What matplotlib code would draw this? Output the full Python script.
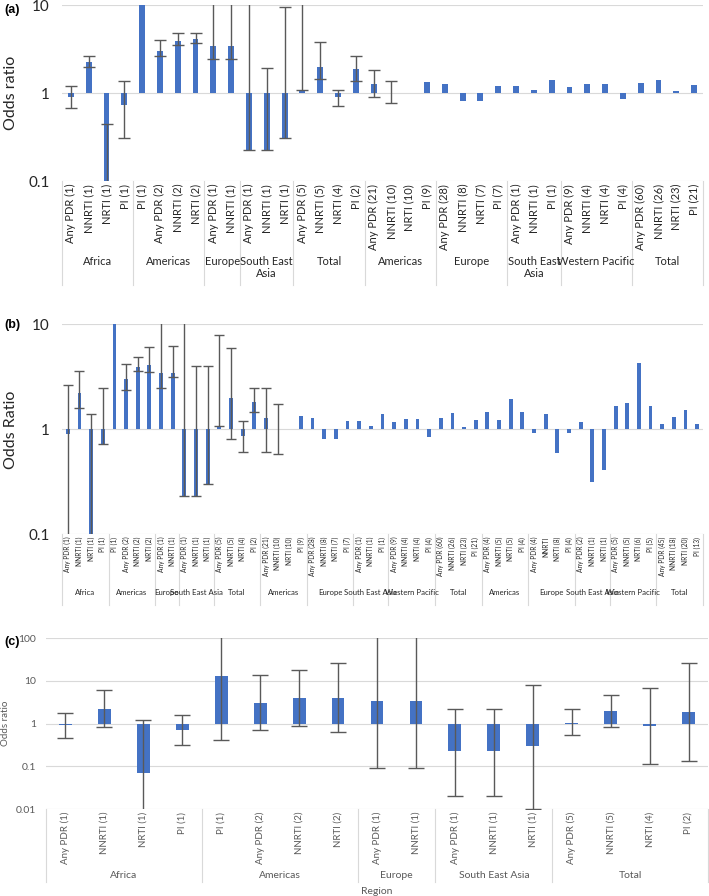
import numpy as np
import matplotlib
matplotlib.use("Agg")
import matplotlib.pyplot as plt
from matplotlib.ticker import NullLocator

plt.rcParams['font.family'] = ['Lato', 'DejaVu Sans']

W, H = 709, 896
BLUE = "#4472C4"
ERR = "#595959"
GRID = "#D9D9D9"
nan = np.nan

# ---------------- panel (a) ----------------
groups_a = ["Africa", "Americas", "Europe", "South East\nAsia", "Total",
            "Americas", "Europe", "South East\nAsia", "Western Pacific", "Total"]
sizes_a = [4, 4, 2, 3, 4, 4, 4, 3, 4, 4]
cats_a = ["Any PDR (1)", "NNRTI (1)", "NRTI (1)", "PI (1)",
          "PI (1)", "Any PDR (2)", "NNRTI (2)", "NRTI (2)",
          "Any PDR (1)", "NNRTI (1)",
          "Any PDR (1)", "NNRTI (1)", "NRTI (1)",
          "Any PDR (5)", "NNRTI (5)", "NRTI (4)", "PI (2)",
          "Any PDR (21)", "NNRTI (10)", "NRTI (10)", "PI (9)",
          "Any PDR (28)", "NNRTI (8)", "NRTI (7)", "PI (7)",
          "Any PDR (1)", "NNRTI (1)", "PI (1)",
          "Any PDR (9)", "NNRTI (4)", "NRTI (4)", "PI (4)",
          "Any PDR (60)", "NNRTI (26)", "NRTI (23)", "PI (21)"]
vals_a = [0.91, 2.25, 0.07, 0.74, 12.9, 3.0, 3.86, 4.1, 3.45, 3.45, 0.227, 0.227, 0.31,
          1.07, 2.0, 0.90, 1.87, 1.28, 1.0, 1.0, 1.34, 1.26, 0.82, 0.82, 1.2,
          1.21, 1.08, 1.42, 1.18, 1.26, 1.26, 0.855, 1.29, 1.42, 1.06, 1.22]
lo_a = [0.68, 2.0, 0.01, 0.31, nan, 2.6, 3.47, 3.7, 2.43, 2.43, 0.227, 0.227, 0.31,
        1.07, 1.45, 0.72, 1.38, 0.91, 0.77] + [nan] * 17
hi_a = [1.19, 2.6, 0.44, 1.36, nan, 3.96, 4.8, 4.8, 20, 20, 20, 1.92, 9.6,
        20, 3.77, 1.07, 2.65, 1.81, 1.38] + [nan] * 17

# ---------------- panel (b) ----------------
groups_b = ["Africa", "Americas", "Europe", "South East Asia", "Total",
            "Americas", "Europe", "South East Asia", "Western Pacific", "Total",
            "Americas", "Europe", "South East Asia", "Western Pacific", "Total"]
sizes_b = [4, 4, 2, 3, 4, 4, 4, 3, 4, 4, 4, 4, 3, 4, 4]
cats_b = cats_a + ["Any PDR (4)", "NNRTI (5)", "NRTI (5)", "PI (4)",
                   "Any PDR (4)", "NNRTI", "NRTI (8)", "PI (4)",
                   "Any PDR (2)", "NNRTI (1)", "NRTI (1)",
                   "Any PDR (5)", "NNRTI (5)", "NRTI (6)", "PI (5)",
                   "Any PDR (45)", "NNRTI (18)", "NRTI (20)", "PI (13)"]
vals_b = [0.89, 2.2, 0.07, 0.72, 12.9, 3.0, 3.87, 4.07, 3.39, 3.39, 0.23, 0.23, 0.30,
          1.07, 1.99, 0.86, 1.82, 1.26, 1.0, 1.0, 1.33, 1.26, 0.81, 0.81, 1.19,
          1.2, 1.07, 1.39, 1.17, 1.25, 1.25, 0.83, 1.27, 1.41, 1.05, 1.21,
          1.45, 1.23, 1.93, 1.45, 0.91, 1.38, 0.59, 0.91, 1.16, 0.31, 0.41,
          1.66, 1.78, 4.28, 1.66, 1.11, 1.29, 1.51, 1.11]
lo_b = [0.01, 1.6, 0.01, 0.72, nan, 2.35, 3.57, 3.47, 2.44, 3.16, 0.23, 0.23, 0.30,
        1.07, 0.81, 0.61, 1.44, 0.61, 0.58] + [nan] * 36
hi_b = [2.6, 3.57, 1.39, 2.44, nan, 4.13, 4.88, 6.0, 20, 6.2, 20, 4.0, 4.0,
        7.85, 5.9, 1.19, 2.44, 2.44, 1.73] + [nan] * 36

# ---------------- panel (c) ----------------
groups_c = ["Africa", "Americas", "Europe", "South East Asia", "Total"]
sizes_c = [4, 4, 2, 3, 4]
cats_c = cats_a[:17]
vals_c = [0.91, 2.2, 0.07, 0.72, 12.9, 3.0, 3.86, 4.0, 3.39, 3.39, 0.233, 0.233, 0.305,
          1.05, 1.94, 0.88, 1.81]
lo_c = [0.46, 0.84, 0.001, 0.32, 0.42, 0.70, 0.87, 0.63, 0.092, 0.092, 0.0205, 0.0205,
        0.01, 0.54, 0.85, 0.11, 0.13]
hi_c = [1.78, 6.0, 1.2, 1.62, 200, 13.3, 17.8, 26.4, 200, 200, 2.2, 2.2, 7.9,
        2.13, 4.7, 6.85, 26.4]


def px_axes(fig, left, top, right, bottom):
    return fig.add_axes([left / W, 1 - bottom / H, (right - left) / W, (bottom - top) / H])


def draw_panel(ax, cats, vals, lo, hi, groups, sizes, ylim, yticks, ytlabels,
               cat_size, cat_color, grp_size, grp_y, sep_depth, cap, tick_size, tick_color, pad):
    n = len(cats)
    x = np.arange(n)
    vals = np.array(vals, dtype=float)
    lo = np.array(lo, dtype=float)
    hi = np.array(hi, dtype=float)

    ax.set_yscale("log")
    ax.set_ylim(*ylim)
    ax.set_xlim(-0.5, n - 0.5)
    for t in yticks:
        ax.axhline(t, color=GRID, lw=0.8, zorder=0)

    # Excel-style bars growing from 1 on a log axis
    ax.bar(x, vals - 1, bottom=1, width=0.33, color=BLUE, zorder=2)

    m = ~np.isnan(lo)
    yerr = [np.clip(vals[m] - lo[m], 0, None), np.clip(hi[m] - vals[m], 0, None)]
    ax.errorbar(x[m], vals[m], yerr=yerr, fmt="none", ecolor=ERR, elinewidth=1.0,
                capsize=cap, capthick=1.0, zorder=3)

    ax.set_yticks(yticks)
    ax.set_yticklabels(ytlabels, fontsize=tick_size, color=tick_color)
    ax.yaxis.set_minor_locator(NullLocator())
    ax.set_xticks(x)
    ax.set_xticklabels(cats, rotation=90, fontsize=cat_size, color=cat_color)
    ax.tick_params(axis="both", length=0, pad=pad)
    ax.tick_params(axis="x", pad=2)
    for s in ax.spines.values():
        s.set_visible(False)

    tr = ax.get_xaxis_transform()
    bounds = np.concatenate([[0], np.cumsum(sizes)]) - 0.5
    for b in bounds:
        ax.plot([b, b], [0, -sep_depth], transform=tr, color=GRID, lw=0.8, clip_on=False)
    for g, a, b in zip(groups, bounds[:-1], bounds[1:]):
        ax.text((a + b) / 2, grp_y, g, transform=tr, ha="center", va="top",
                fontsize=grp_size, color=cat_color, linespacing=1.1)


fig = plt.figure(figsize=(W / 100, H / 100), dpi=100)

ax_a = px_axes(fig, 62, 5, 703, 181)
draw_panel(ax_a, cats_a, vals_a, lo_a, hi_a, groups_a, sizes_a, (0.1, 10), [0.1, 1, 10],
           ["0.1", "1", "10"], 8, "#262626", 8, -(256 - 181) / 176, 104 / 176, 4.5, 11,
           "#262626", 9)

ax_b = px_axes(fig, 62, 324, 703, 534)
draw_panel(ax_b, cats_b, vals_b, lo_b, hi_b, groups_b, sizes_b, (0.1, 10), [0.1, 1, 10],
           ["0.1", "1", "10"], 4.8, "#262626", 5.6, -(589 - 534) / 210, 71 / 210, 3.5, 11,
           "#262626", 9)

ax_c = px_axes(fig, 46, 638, 708, 809)
draw_panel(ax_c, cats_c, vals_c, lo_c, hi_c, groups_c, sizes_c, (0.01, 100),
           [0.01, 0.1, 1, 10, 100], ["0.01", "0.1", "1", "10", "100"], 7, "#595959", 7.5,
           -(871 - 809) / 171, 73 / 171, 6, 7.5, "#595959", 7)

# axis titles placed in pixels, as in the reference
fig.text(11 / W, 1 - 93 / H, "Odds ratio", rotation=90, ha="center", va="center",
         fontsize=11.5, color="#262626")
fig.text(11 / W, 1 - 430 / H, "Odds Ratio", rotation=90, ha="center", va="center",
         fontsize=11.5, color="#262626")
fig.text(6 / W, 1 - 723 / H, "Odds ratio", rotation=90, ha="center", va="center",
         fontsize=7, color="#595959")
fig.text(377 / W, 1 - 891 / H, "Region", ha="center", va="center", fontsize=7.5, color="#595959")

for lab, yp in [("(a)", 10), ("(b)", 325), ("(c)", 642)]:
    fig.text(4 / W, 1 - yp / H, lab, ha="left", va="center", fontsize=9, fontweight="bold",
             family="Liberation Sans")

fig.savefig("out.png", dpi=100, facecolor="white")
